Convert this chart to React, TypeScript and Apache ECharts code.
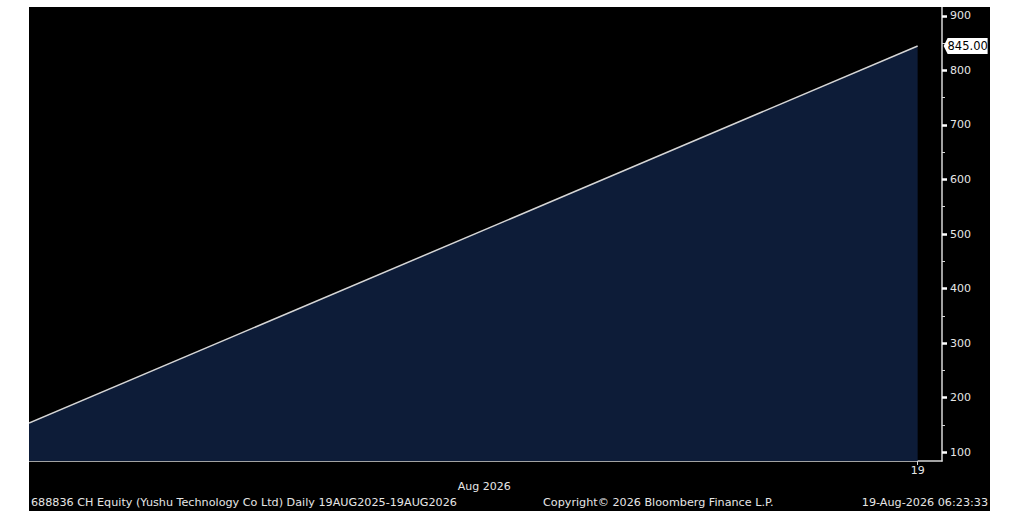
import React, { useEffect, useRef } from "react";
import * as echarts from "echarts";

const dayIndex = [0, 365];
const prices = [153, 845];
const lastLabel = "845.00";
const yTicks = [100, 200, 300, 400, 500, 600, 700, 800, 900];
const yMinorTicks = [150, 250, 350, 450, 550, 650, 750, 850];
const xTickValues = [365];
const xTickLabels = ["19"];
const monthLabelValue = [187];
const monthLabel = ["Aug 2026"];
const footerLeft = "688836 CH Equity (Yushu Technology Co Ltd) Daily 19AUG2025-19AUG2026";
const footerMid = "Copyright\u00A9 2026 Bloomberg Finance L.P.";
const footerRight = "19-Aug-2026 06:23:33";

const FONT = "DejaVu Sans";
const TXT = "#e6e6e6";

export default function App() {
  const ref = useRef<HTMLDivElement>(null);
  useEffect(() => {
    if (!ref.current) return;
    const chart = echarts.init(ref.current, undefined, { renderer: "svg" });
    const data = dayIndex.map((d, i) => [d, prices[i]]);
    const yMin = 83.5;
    const yMax = 916.5;
    chart.setOption({
      animation: false,
      backgroundColor: "#000000",
      textStyle: { fontFamily: FONT },
      grid: { left: 0, top: 0, right: 48, bottom: 50 },
      xAxis: [
        {
          type: "value",
          min: 0,
          max: 375,
          axisLine: { show: true, onZero: false, lineStyle: { color: "#d8d8d8", width: 1.5 } },
          axisTick: { show: true, customValues: xTickValues, length: 4, lineStyle: { color: "#d8d8d8" } },
          axisLabel: {
            show: true,
            customValues: xTickValues,
            formatter: (v: number) => xTickLabels[xTickValues.indexOf(v)] ?? "",
            color: TXT,
            fontSize: 11,
            fontFamily: FONT,
            margin: 4,
          },
          splitLine: { show: false },
        },
        {
          type: "value",
          min: 0,
          max: 375,
          position: "bottom",
          axisLine: { show: false, onZero: false },
          axisTick: { show: false },
          axisLabel: {
            show: true,
            customValues: monthLabelValue,
            formatter: (v: number) => monthLabel[monthLabelValue.indexOf(v)] ?? "",
            color: TXT,
            fontSize: 11,
            fontFamily: FONT,
            margin: 20,
          },
          splitLine: { show: false },
        },
      ],
      yAxis: [
        {
          type: "value",
          position: "right",
          min: yMin,
          max: yMax,
          axisLine: { show: true, onZero: false, lineStyle: { color: "#d8d8d8", width: 1.5 } },
          axisTick: { show: true, customValues: yTicks, length: 5, lineStyle: { color: "#ffffff", width: 2.5 } },
          axisLabel: {
            show: true,
            customValues: yTicks,
            color: TXT,
            fontSize: 11,
            fontFamily: FONT,
            margin: 8,
          },
          splitLine: { show: false },
        },
        {
          type: "value",
          position: "right",
          min: yMin,
          max: yMax,
          axisLine: { show: false, onZero: false },
          axisTick: { show: true, customValues: yMinorTicks, length: 3, lineStyle: { color: "#d8d8d8", width: 1 } },
          axisLabel: { show: false },
          splitLine: { show: false },
        },
      ],
      series: [
        {
          type: "line",
          data,
          showSymbol: false,
          symbol: "none",
          lineStyle: { color: "#d6d6d6", width: 1.5 },
          areaStyle: { color: "#0d1c38", opacity: 1, origin: "start" },
          markPoint: {
            silent: true,
            symbol: "path://M4,0 L44,0 L44,16 L4,16 L0,8 Z",
            symbolSize: [44, 16],
            symbolOffset: [48, 0],
            itemStyle: { color: "#ffffff" },
            label: {
              show: true,
              formatter: lastLabel,
              color: "#000000",
              fontSize: 11.5,
              fontFamily: FONT,
              offset: [2, 0],
            },
            data: [{ coord: [dayIndex[dayIndex.length - 1], prices[prices.length - 1]] }],
          },
        },
      ],
      graphic: [
        {
          type: "text",
          left: 2,
          top: 490,
          style: { text: footerLeft, fill: TXT, font: `11.2px ${FONT}` },
        },
        {
          type: "text",
          left: 514,
          top: 490,
          style: { text: footerMid, fill: TXT, font: `11.2px ${FONT}` },
        },
        {
          type: "text",
          right: 2,
          top: 490,
          style: { text: footerRight, fill: TXT, font: `11.2px ${FONT}` },
        },
      ],
    });
    return () => chart.dispose();
  }, []);
  return (
    <div style={{ position: "fixed", left: 0, top: 0, width: 1024, height: 532, background: "#ffffff" }}>
      <div
        ref={ref}
        style={{ position: "absolute", left: 29, top: 7, width: 961, height: 504, border: "none" }}
      />
    </div>
  );
}
